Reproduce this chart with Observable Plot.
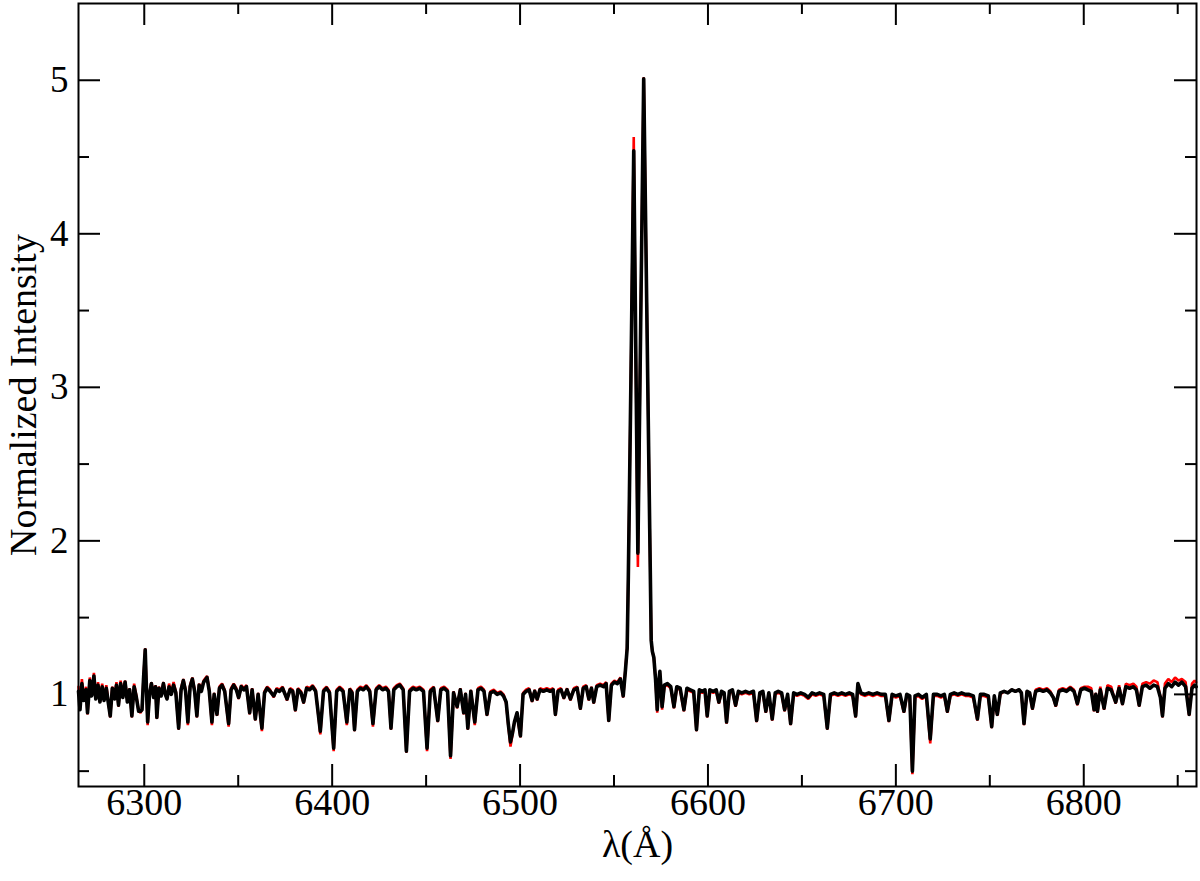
<!DOCTYPE html>
<html>
<head>
<meta charset="utf-8">
<script src="https://cdn.jsdelivr.net/npm/d3@7"></script>
<script src="https://cdn.jsdelivr.net/npm/@observablehq/plot@0.6"></script>
<style>
  html, body { margin: 0; padding: 0; background: #fff; }
  #chart { width: 1200px; height: 881px; }
</style>
</head>
<body>
<div id="chart"></div>
<script>
// Wavelength grid (Å)
const wavelength = [
  6265.0, 6265.8, 6266.8, 6267.8, 6269.0, 6269.8, 6271.0, 6272.0, 6273.2, 6274.2,
  6275.4, 6276.4, 6277.6, 6278.6, 6279.8, 6280.8, 6281.9, 6283.0, 6284.2, 6285.2,
  6286.3, 6287.4, 6288.6, 6289.8, 6291.0, 6292.2, 6293.4, 6294.6, 6295.8, 6297.0,
  6298.0, 6298.8, 6299.6, 6300.5, 6301.2, 6301.8, 6302.8, 6303.8, 6305.0, 6306.0,
  6306.7, 6307.8, 6309.0, 6310.2, 6311.2, 6312.1, 6313.2, 6314.4, 6315.6, 6316.8,
  6318.3, 6319.6, 6320.8, 6322.0, 6323.2, 6324.4, 6325.6, 6326.8, 6328.0, 6329.2,
  6330.4, 6331.6, 6333.4, 6334.6, 6336.0, 6337.2, 6338.7, 6340.0, 6341.4, 6342.8,
  6344.9, 6346.2, 6347.6, 6349.0, 6350.2, 6351.6, 6353.0, 6354.4, 6356.1, 6357.4,
  6359.1, 6360.6, 6362.6, 6364.0, 6365.4, 6367.0, 6368.9, 6370.4, 6372.0, 6373.6,
  6376.0, 6377.6, 6379.0, 6380.4, 6381.8, 6383.4, 6384.8, 6386.4, 6388.0, 6389.6,
  6391.2, 6393.7, 6395.4, 6397.0, 6398.6, 6400.8, 6402.4, 6404.0, 6405.8, 6407.8,
  6409.4, 6410.6, 6411.9, 6413.4, 6415.0, 6416.6, 6418.2, 6420.0, 6421.7, 6423.4,
  6425.0, 6426.8, 6428.6, 6430.0, 6431.3, 6432.8, 6434.4, 6436.0, 6437.8, 6439.5,
  6441.2, 6443.0, 6444.8, 6446.6, 6448.6, 6450.5, 6452.2, 6454.0, 6456.2, 6457.8,
  6459.6, 6461.4, 6463.0, 6464.6, 6466.5, 6468.2, 6470.0, 6471.0, 6472.2, 6473.8,
  6475.9, 6477.6, 6479.2, 6480.8, 6482.4, 6484.2, 6486.0, 6487.8, 6489.6, 6491.2,
  6492.6, 6493.8, 6494.9, 6496.0, 6497.0, 6498.4, 6500.2, 6501.6, 6503.2, 6504.8,
  6506.4, 6507.8, 6509.1, 6510.6, 6512.4, 6514.2, 6516.0, 6517.6, 6518.8, 6520.2,
  6521.8, 6523.3, 6525.0, 6526.8, 6528.6, 6530.4, 6532.1, 6533.6, 6535.2, 6536.6,
  6538.0, 6539.2, 6540.8, 6542.6, 6544.4, 6545.8, 6547.2, 6548.6, 6550.2, 6551.8,
  6553.4, 6554.9, 6556.1, 6557.0, 6557.6, 6558.2, 6559.0, 6559.8, 6560.5, 6561.2,
  6562.0, 6562.7, 6563.4, 6564.2, 6565.0, 6565.8, 6566.6, 6567.4, 6568.2, 6569.0,
  6569.8, 6570.4, 6571.2, 6572.1, 6573.0, 6573.8, 6574.4, 6575.6, 6576.8, 6578.4,
  6580.2, 6581.9, 6583.4, 6585.2, 6587.2, 6588.8, 6590.6, 6592.4, 6593.9, 6595.4,
  6597.0, 6598.4, 6599.6, 6601.0, 6602.8, 6604.4, 6605.8, 6607.2, 6608.6, 6609.9,
  6611.4, 6613.0, 6614.7, 6616.2, 6618.0, 6620.0, 6622.0, 6624.2, 6625.9, 6627.6,
  6629.2, 6630.8, 6632.4, 6634.2, 6635.8, 6637.4, 6639.2, 6640.8, 6642.4, 6644.0,
  6645.6, 6647.4, 6649.4, 6651.4, 6653.4, 6655.4, 6657.4, 6659.4, 6661.6, 6663.5,
  6665.2, 6667.2, 6669.2, 6671.2, 6673.2, 6675.2, 6677.0, 6678.6, 6679.8, 6681.4,
  6683.4, 6685.6, 6687.8, 6690.0, 6692.2, 6694.4, 6696.3, 6698.0, 6700.0, 6702.2,
  6704.3, 6705.8, 6707.4, 6708.8, 6710.2, 6712.0, 6714.0, 6716.2, 6718.3, 6720.0,
  6722.0, 6724.0, 6725.8, 6727.4, 6729.0, 6731.0, 6733.0, 6735.0, 6737.0, 6739.0,
  6741.2, 6743.4, 6745.0, 6747.0, 6749.2, 6751.0, 6752.4, 6754.0, 6755.6, 6757.6,
  6759.6, 6761.6, 6763.6, 6765.6, 6766.8, 6768.2, 6769.8, 6771.2, 6772.7, 6774.4,
  6776.4, 6778.4, 6780.4, 6782.2, 6783.8, 6785.1, 6786.8, 6788.8, 6790.8, 6792.8,
  6794.8, 6796.6, 6798.4, 6800.4, 6802.2, 6804.0, 6805.5, 6806.4, 6807.3, 6808.8,
  6810.8, 6812.6, 6814.6, 6817.0, 6818.8, 6820.6, 6822.4, 6824.4, 6826.4, 6828.0,
  6829.5, 6831.2, 6833.2, 6835.2, 6837.2, 6839.2, 6840.8, 6841.9, 6843.2, 6845.0,
  6846.8, 6848.6, 6850.4, 6852.2, 6854.2, 6856.1, 6857.6, 6859.0, 6859.8
];

// Observed normalized intensity (black)
const observed = [
  1.02, 0.90, 1.07, 0.96, 1.03, 0.88, 1.09, 0.99, 1.12, 0.97,
  1.06, 0.95, 1.05, 0.96, 1.04, 0.95, 0.86, 1.04, 0.97, 1.06,
  0.93, 1.07, 0.98, 1.08, 0.95, 1.03, 0.86, 1.05, 0.98, 0.89,
  0.89, 0.90, 1.10, 1.29, 1.02, 0.82, 1.00, 1.07, 0.98, 1.05,
  0.85, 1.04, 0.99, 1.07, 1.00, 0.97, 1.05, 1.00, 1.06, 1.01,
  0.78, 1.03, 1.09, 1.02, 0.82, 1.05, 1.10, 1.02, 0.86, 1.06,
  1.02, 1.08, 1.11, 1.02, 0.82, 1.00, 0.87, 1.04, 1.06, 1.02,
  0.81, 1.03, 1.06, 1.03, 0.98, 1.05, 1.03, 1.05, 0.88, 1.03,
  0.84, 1.00, 0.78, 1.01, 1.04, 1.02, 0.99, 1.03, 1.02, 1.04,
  0.97, 1.03, 1.02, 0.90, 1.03, 1.01, 0.95, 1.04, 1.03, 1.05,
  1.02, 0.76, 1.02, 1.04, 1.01, 0.65, 1.02, 1.04, 1.02, 0.82,
  1.03, 1.01, 0.77, 1.02, 1.04, 1.03, 1.05, 1.02, 0.81, 1.03,
  1.05, 1.03, 1.04, 1.02, 0.78, 1.03, 1.05, 1.06, 1.03, 0.63,
  1.02, 1.04, 1.03, 1.04, 1.02, 0.65, 1.02, 1.04, 0.83, 1.03,
  1.04, 1.02, 0.60, 1.01, 0.92, 1.03, 0.88, 1.00, 0.78, 1.02,
  0.82, 1.03, 1.04, 1.02, 0.87, 1.01, 1.02, 1.00, 1.01, 0.99,
  0.95, 0.80, 0.69, 0.75, 0.82, 0.88, 0.73, 1.00, 1.02, 1.03,
  0.96, 1.02, 0.97, 1.03, 1.02, 1.03, 1.02, 1.03, 0.87, 1.02,
  1.03, 0.98, 1.03, 0.97, 1.03, 1.04, 0.91, 1.04, 1.05, 0.97,
  1.04, 0.95, 1.05, 1.06, 1.05, 1.07, 0.83, 1.06, 1.08, 1.07,
  1.10, 0.99, 1.16, 1.30, 1.75, 2.30, 3.05, 3.85, 4.54, 3.71,
  2.75, 1.92, 2.62, 3.42, 4.21, 5.01, 4.28, 3.55, 2.81, 2.08,
  1.35, 1.28, 1.24, 1.10, 0.90, 1.08, 1.15, 0.92, 1.06, 1.07,
  1.05, 0.92, 1.05, 1.04, 0.90, 1.04, 1.03, 1.02, 0.77, 1.03,
  1.02, 1.03, 0.86, 1.03, 1.02, 1.03, 0.95, 1.02, 1.01, 0.82,
  1.02, 1.03, 0.93, 1.02, 1.01, 1.02, 1.01, 1.02, 0.83, 1.01,
  1.02, 0.89, 1.01, 0.84, 1.01, 1.02, 1.01, 0.90, 1.00, 0.81,
  1.01, 1.00, 1.01, 1.00, 0.98, 1.01, 1.00, 1.01, 1.00, 0.78,
  1.00, 1.01, 1.00, 1.01, 1.00, 1.01, 1.00, 0.86, 1.07, 1.01,
  1.00, 1.01, 1.00, 1.01, 1.00, 1.00, 0.83, 1.00, 0.99, 1.00,
  0.89, 1.00, 0.99, 0.50, 0.99, 1.00, 0.98, 1.00, 0.71, 1.00,
  1.00, 0.99, 1.00, 0.89, 1.00, 1.01, 1.00, 1.01, 1.00, 1.00,
  0.99, 0.84, 1.00, 1.00, 0.99, 0.79, 0.99, 0.87, 1.01, 1.02,
  1.01, 1.03, 1.02, 1.03, 1.01, 0.81, 1.02, 1.01, 0.91, 1.02,
  1.03, 1.02, 1.03, 1.01, 0.98, 0.93, 1.02, 1.03, 1.02, 1.04,
  1.02, 0.94, 1.03, 1.04, 1.03, 1.02, 0.90, 1.00, 0.89, 1.03,
  0.91, 1.04, 1.03, 0.95, 1.04, 0.94, 1.05, 1.04, 1.05, 1.03,
  0.93, 1.05, 1.06, 1.04, 1.06, 1.05, 0.98, 0.86, 1.04, 1.07,
  1.05, 1.08, 1.06, 1.08, 1.05, 0.87, 1.04, 1.06, 1.05
];

// Model normalized intensity (red)
const model = [
  1.05, 0.92, 1.10, 0.97, 1.05, 0.87, 1.11, 1.00, 1.14, 0.98,
  1.08, 0.95, 1.07, 0.97, 1.06, 0.96, 0.85, 1.05, 0.98, 1.08,
  0.92, 1.09, 0.99, 1.09, 0.96, 1.04, 0.85, 1.07, 0.99, 0.89,
  0.88, 0.90, 1.11, 1.30, 1.03, 0.80, 1.01, 1.08, 0.99, 1.06,
  0.84, 1.05, 1.00, 1.08, 1.01, 0.97, 1.07, 1.01, 1.08, 1.02,
  0.77, 1.04, 1.10, 1.03, 0.80, 1.06, 1.11, 1.03, 0.85, 1.07,
  1.03, 1.09, 1.12, 1.03, 0.80, 1.01, 0.86, 1.05, 1.07, 1.03,
  0.79, 1.04, 1.07, 1.04, 0.97, 1.06, 1.04, 1.06, 0.87, 1.04,
  0.83, 1.01, 0.76, 1.02, 1.05, 1.03, 0.98, 1.04, 1.03, 1.05,
  0.96, 1.04, 1.03, 0.89, 1.04, 1.02, 0.94, 1.05, 1.04, 1.06,
  1.03, 0.74, 1.03, 1.05, 1.02, 0.63, 1.03, 1.05, 1.03, 0.80,
  1.04, 1.02, 0.76, 1.03, 1.05, 1.04, 1.06, 1.03, 0.79, 1.04,
  1.06, 1.04, 1.05, 1.03, 0.77, 1.04, 1.06, 1.07, 1.04, 0.62,
  1.03, 1.05, 1.04, 1.05, 1.03, 0.63, 1.03, 1.05, 0.82, 1.04,
  1.05, 1.03, 0.58, 1.02, 0.91, 1.04, 0.87, 1.01, 0.77, 1.03,
  0.80, 1.04, 1.05, 1.03, 0.86, 1.02, 1.03, 1.01, 1.02, 1.00,
  0.94, 0.79, 0.66, 0.74, 0.82, 0.87, 0.72, 1.01, 1.03, 1.04,
  0.95, 1.03, 0.96, 1.04, 1.03, 1.04, 1.03, 1.04, 0.86, 1.03,
  1.04, 0.97, 1.04, 0.96, 1.04, 1.05, 0.90, 1.05, 1.06, 0.96,
  1.05, 0.94, 1.06, 1.07, 1.06, 1.08, 0.82, 1.07, 1.09, 1.08,
  1.11, 0.98, 1.17, 1.31, 1.76, 2.31, 3.07, 3.90, 4.63, 3.72,
  2.70, 1.83, 2.58, 3.42, 4.22, 5.02, 4.29, 3.56, 2.82, 2.08,
  1.35, 1.28, 1.24, 1.10, 0.88, 1.07, 1.14, 0.90, 1.05, 1.06,
  1.04, 0.91, 1.04, 1.03, 0.89, 1.03, 1.02, 1.01, 0.76, 1.02,
  1.01, 1.02, 0.85, 1.02, 1.01, 1.02, 0.94, 1.01, 1.00, 0.81,
  1.01, 1.02, 0.92, 1.01, 1.00, 1.01, 1.00, 1.01, 0.82, 1.00,
  1.01, 0.88, 1.00, 0.83, 1.00, 1.01, 1.00, 0.89, 0.99, 0.80,
  1.00, 0.99, 1.00, 0.99, 0.97, 1.00, 0.99, 1.00, 0.99, 0.77,
  0.99, 1.00, 0.99, 1.00, 0.99, 1.00, 0.99, 0.85, 1.05, 1.00,
  0.99, 1.00, 0.99, 1.00, 0.99, 0.99, 0.82, 0.99, 0.98, 0.99,
  0.88, 0.99, 0.98, 0.48, 0.98, 0.99, 0.97, 0.99, 0.68, 0.99,
  0.99, 0.98, 0.99, 0.88, 0.99, 1.00, 0.99, 1.00, 0.99, 0.99,
  0.98, 0.83, 0.99, 0.99, 0.98, 0.78, 0.98, 0.86, 1.00, 1.02,
  1.01, 1.03, 1.02, 1.03, 1.01, 0.80, 1.02, 1.01, 0.90, 1.03,
  1.04, 1.03, 1.04, 1.02, 0.98, 0.92, 1.03, 1.04, 1.03, 1.05,
  1.03, 0.93, 1.04, 1.05, 1.05, 1.04, 0.89, 1.01, 0.88, 1.05,
  0.90, 1.06, 1.05, 0.94, 1.06, 0.93, 1.07, 1.06, 1.07, 1.05,
  0.92, 1.07, 1.08, 1.07, 1.09, 1.08, 0.98, 0.85, 1.07, 1.10,
  1.08, 1.11, 1.09, 1.10, 1.08, 0.86, 1.07, 1.09, 1.08
];

// Axis ticks
const xMajorTicks = [6300, 6400, 6500, 6600, 6700, 6800];
const xMinorTicks = [6350, 6450, 6550, 6650, 6750, 6850];
const yMajorTicks = [1, 2, 3, 4, 5];
const yMinorTicks = [0.5, 1.5, 2.5, 3.5, 4.5];
const xLabel = "λ(Å)";
const yLabel = "Normalized Intensity";

const spectrum = wavelength.map((w, i) => ({w, obs: observed[i], mod: model[i]}));

const W = 1200, H = 881;
const mL = 78, mR = 4, mT = 3, mB = 95;
const innerW = W - mL - mR, innerH = H - mT - mB;
const major = 22, minor = 11;
const font = "'Liberation Serif', 'Times New Roman', Times, serif";

const chart = Plot.plot({
  width: W,
  height: H,
  marginLeft: mL,
  marginRight: mR,
  marginTop: mT,
  marginBottom: mB,
  style: {fontFamily: font, background: "#fff", color: "#000"},
  x: {domain: [6265, 6860], axis: null},
  y: {domain: [0.4, 5.5], axis: null},
  marks: [
    Plot.line(spectrum, {x: "w", y: "mod", stroke: "#ff0000", strokeWidth: 2.6, strokeLinejoin: "miter"}),
    Plot.line(spectrum, {x: "w", y: "obs", stroke: "#000", strokeWidth: 3.6, strokeLinejoin: "round"}),
    // bottom & top x ticks (inward)
    Plot.tickX(xMajorTicks, {x: d => d, stroke: "#000", strokeWidth: 2, insetTop: innerH - major}),
    Plot.tickX(xMinorTicks, {x: d => d, stroke: "#000", strokeWidth: 2, insetTop: innerH - minor}),
    Plot.tickX(xMajorTicks, {x: d => d, stroke: "#000", strokeWidth: 2, insetBottom: innerH - major}),
    Plot.tickX(xMinorTicks, {x: d => d, stroke: "#000", strokeWidth: 2, insetBottom: innerH - minor}),
    // left & right y ticks (inward)
    Plot.tickY(yMajorTicks, {y: d => d, stroke: "#000", strokeWidth: 2, insetRight: innerW - major}),
    Plot.tickY(yMinorTicks, {y: d => d, stroke: "#000", strokeWidth: 2, insetRight: innerW - minor}),
    Plot.tickY(yMajorTicks, {y: d => d, stroke: "#000", strokeWidth: 2, insetLeft: innerW - major}),
    Plot.tickY(yMinorTicks, {y: d => d, stroke: "#000", strokeWidth: 2, insetLeft: innerW - minor}),
    Plot.frame({stroke: "#000", strokeWidth: 2}),
    // tick labels
    Plot.text(xMajorTicks, {x: d => d, text: d => String(d), frameAnchor: "bottom", textAnchor: "middle", dy: 28, fontSize: 38, fontFamily: font, fill: "#000"}),
    Plot.text(yMajorTicks, {y: d => d, text: d => String(d), frameAnchor: "left", dx: -10, textAnchor: "end", fontSize: 37, fontFamily: font, fill: "#000"}),
    // axis titles
    Plot.text([xLabel], {text: d => d, frameAnchor: "bottom", textAnchor: "middle", dy: 70, fontSize: 38, fontFamily: font, fill: "#000"}),
    Plot.text([yLabel], {text: d => d, frameAnchor: "left", textAnchor: "middle", rotate: -90, dx: -55, fontSize: 38, fontFamily: font, fill: "#000"})
  ]
});

document.getElementById("chart").appendChild(chart);
</script>
</body>
</html>
